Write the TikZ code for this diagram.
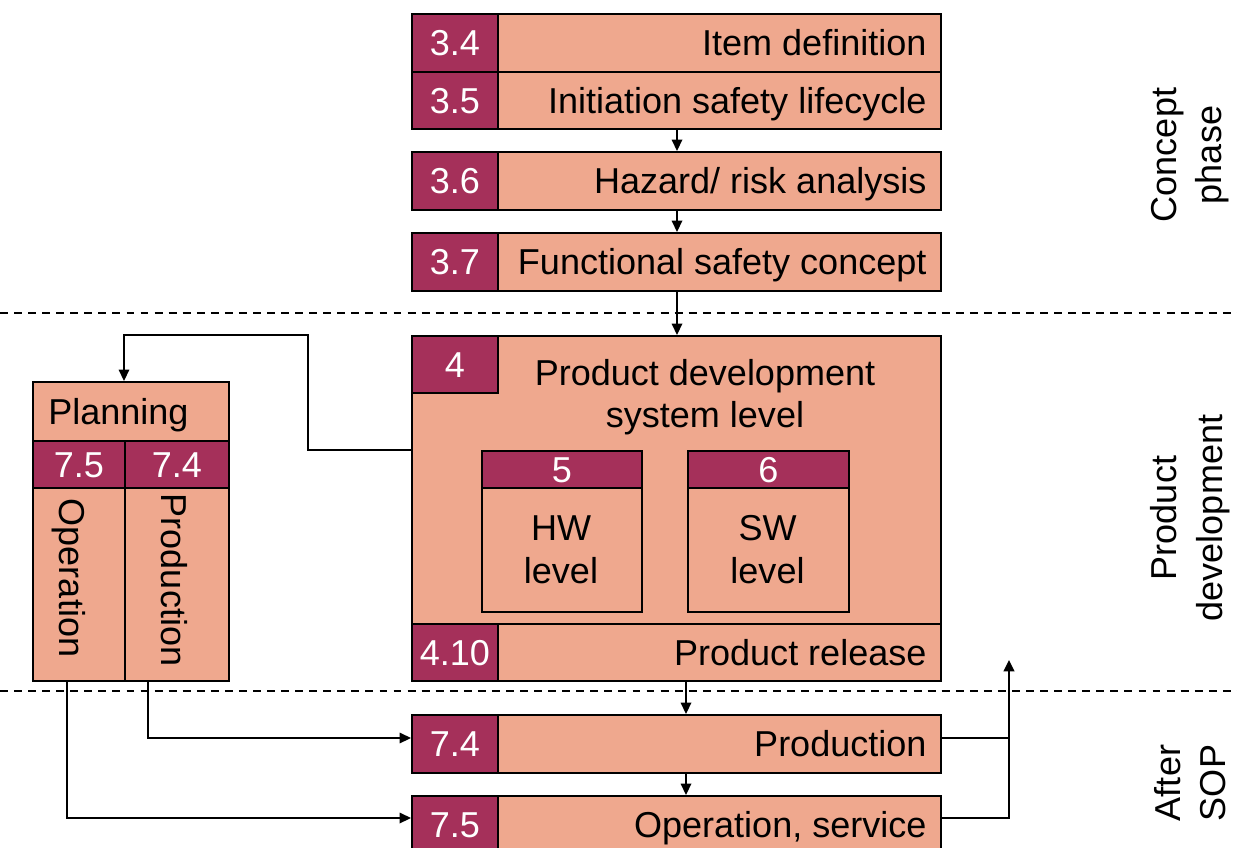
\documentclass[tikz,border=0pt]{standalone}
\usepackage{fontspec}
\setmainfont{Liberation Sans}
\usetikzlibrary{arrows.meta,calc}
\definecolor{salmon}{HTML}{EFA88E}
\definecolor{plum}{HTML}{A5305A}
\begin{document}
\begin{tikzpicture}[x=0.02cm,y=-0.02cm,
  every node/.style={font=\fontsize{20.5}{24}\selectfont, inner sep=0pt},
  sz/.style 2 args={minimum width=#1*0.02cm, minimum height=#2*0.02cm},
  cell/.style={draw=black, line width=1pt, fill=salmon, anchor=north west},
  one/.style={text height=14.7pt, text depth=0pt},
  num/.style={cell, one, fill=plum, text=white},
  lbl/.style={one, anchor=east},
  arr/.style={line width=0.9pt, -{Triangle[length=6.5pt,width=6pt]}},
  wire/.style={line width=0.9pt},
  sep/.style={line width=0.7pt, dash pattern=on 4.5pt off 3.5pt},
  phase/.style={rotate=90, align=center, font=\fontsize{20.5}{26}\selectfont}
]
\useasboundingbox (0,0) rectangle (1237,848);

% phase separators
\draw[sep] (0,313) -- (1237,313);
\draw[sep] (0,691) -- (1237,691);

% concept phase
\node[cell, sz={443}{58}] (t34) at (497,13) {};
\node[num,  sz={86}{58}]  (n34) at (411,13) {3.4};
\node[lbl] at ([xshift=-0.3cm]t34.east) {Item definition};
\node[cell, sz={443}{57}] (t35) at (497,71) {};
\node[num,  sz={86}{57}]  (n35) at (411,71) {3.5};
\node[lbl] at ([xshift=-0.3cm]t35.east) {Initiation safety lifecycle};
\node[cell, sz={443}{58}] (t36) at (497,151) {};
\node[num,  sz={86}{58}]  (n36) at (411,151) {3.6};
\node[lbl] at ([xshift=-0.3cm]t36.east) {Hazard/ risk analysis};
\node[cell, sz={443}{58}] (t37) at (497,232) {};
\node[num,  sz={86}{58}]  (n37) at (411,232) {3.7};
\node[lbl] at ([xshift=-0.3cm]t37.east) {Functional safety concept};

% product development
\node[cell, sz={529}{345}] (pd) at (411,335) {};
\node[num,  sz={86}{57}]   (n4) at (411,335) {4};
\node[align=center] (pdt) at (705,397) {Product development\\system level};
\node[cell, sz={160}{161}] (hw) at (481,450) {};
\node[num,  sz={160}{37}]  (n5) at (481,450) {5};
\node[align=center, font=\fontsize{20.5}{24.5}\selectfont] (hwt) at (561,550) {HW\\level};
\node[cell, sz={161}{161}] (sw) at (687,450) {};
\node[num,  sz={161}{37}]  (n6) at (687,450) {6};
\node[align=center, font=\fontsize{20.5}{24.5}\selectfont] (swt) at (767.5,550) {SW\\level};
\node[cell, sz={443}{57}] (t410) at (497,623) {};
\node[num,  sz={86}{57}]  (n410) at (411,623) {4.10};
\node[lbl] at ([xshift=-0.3cm]t410.east) {Product release};

% planning block
\node[cell, sz={196}{59}] (plan) at (32,381) {};
\node[one, anchor=west] at ([xshift=0.32cm]plan.west) {Planning};
\node[num, sz={92}{47}]  (p75) at (32,440) {7.5};
\node[num, sz={104}{47}] (p74) at (124,440) {7.4};
\node[cell, sz={92}{193}]  (colop) at (32,487) {};
\node[cell, sz={104}{193}] (colpr) at (124,487) {};
\node[one, rotate=-90] at (72,578) {Operation};
\node[one, rotate=-90] at (174,580) {Production};

% after SOP
\node[cell, sz={443}{58}] (t74) at (497,714) {};
\node[num,  sz={86}{58}]  (n74) at (411,714) {7.4};
\node[lbl] at ([xshift=-0.3cm]t74.east) {Production};
\node[cell, sz={443}{58}] (t75) at (497,795) {};
\node[num,  sz={86}{58}]  (n75) at (411,795) {7.5};
\node[lbl] at ([xshift=-0.3cm]t75.east) {Operation, service};

% phase labels
\node[phase] (lc) at (1190,155) {Concept\\phase};
\node[phase] (lp) at (1190,518) {Product\\development};
\node[phase] (la) at (1190,783) {After\\SOP};

% connector guides
\coordinate (xa) at (677,0);
\coordinate (xb) at (686,0);
\coordinate (ka) at (308,450);
\coordinate (kb) at (124,335);
\coordinate (xo) at (67,0);
\coordinate (xp) at (148,0);
\coordinate (yo) at (0,818);
\coordinate (yp) at (0,738);
\coordinate (up) at (1009,660);

% connectors
\draw[arr] (t35.south -| xa) -- (t36.north -| xa);
\draw[arr] (t36.south -| xa) -- (t37.north -| xa);
\draw[arr] (t37.south -| xa) -- (pd.north -| xa);
\draw[arr] (pd.west |- ka) -- (ka) |- (kb) -- (kb |- plan.north);
\draw[arr] (t410.south -| xb) -- (t74.north -| xb);
\draw[arr] (t74.south -| xb) -- (t75.north -| xb);
\draw[arr] (colpr.south -| xp) |- (n74.west |- yp);
\draw[arr] (colop.south -| xo) |- (n75.west |- yo);
\draw[wire] (t74.east |- yp) -- (yp -| up);
\draw[arr, line width=1.3pt] (t75.east |- yo) -| (up);
\end{tikzpicture}
\end{document}
